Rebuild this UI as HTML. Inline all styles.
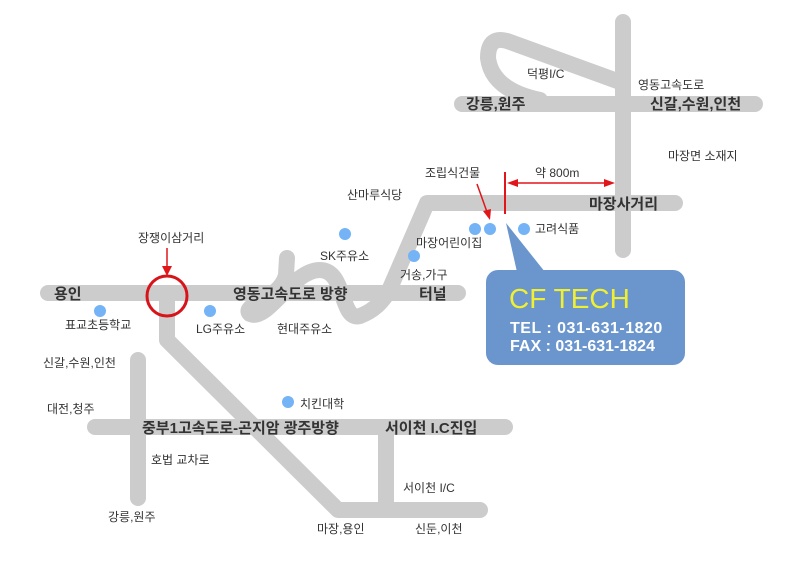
<!DOCTYPE html>
<html><head><meta charset="utf-8"><style>
html,body{margin:0;padding:0;background:#fff;width:800px;height:569px;overflow:hidden}
svg{display:block}
text{font-family:"Liberation Sans","Noto Sans CJK KR",sans-serif;fill:#333}
.s{font-size:12px}
.b{font-size:15px;font-weight:bold;fill:#333}
</style></head><body>
<svg width="800" height="569" viewBox="0 0 800 569">
<g fill="none" stroke="#cccccc" stroke-width="16" stroke-linecap="round" stroke-linejoin="round">
<path d="M623 22 L623 250"/>
<path d="M462 104 L755 104"/>
<path d="M620 82 L510 42 Q 488 34 488 58 Q 492 90 540 100"/>
<path d="M388 293 L427 203 L675 203"/>
<path d="M48 293 L458 293"/>
<path d="M287 258 L286 275 C 280 300, 240 305, 250 314 C 268 322, 292 270, 320 270 C 346 270, 340 322, 360 316 C 376 310, 383 300, 390 290"/>
<path d="M167 300 L167 340 L338 510 L480 510"/>
<path d="M386 510 L386 428"/>
<path d="M95 427 L505 427"/>
<path d="M138 360 L138 498"/>
</g>
<circle cx="167" cy="296" r="20" fill="none" stroke="#d7141a" stroke-width="3"/>
<g stroke="#e0161b" stroke-width="1.5" fill="#e0161b">
<line x1="167" y1="248" x2="167" y2="268"/>
<polygon points="162,266 172,266 167,276" stroke="none"/>
<line x1="505" y1="172" x2="505" y2="214" stroke-width="2"/>
<line x1="515" y1="183" x2="605" y2="183"/>
<polygon points="507,183 518,179 518,187" stroke="none"/>
<polygon points="615,183 604,179 604,187" stroke="none"/>
<line x1="477" y1="184" x2="487" y2="212"/>
<polygon points="483,211 491,209 490,220" stroke="none"/>
</g>
<g fill="#74b3f5">
<circle cx="100" cy="311" r="6"/><circle cx="210" cy="311" r="6"/>
<circle cx="345" cy="234" r="6"/><circle cx="414" cy="256" r="6"/>
<circle cx="475" cy="229" r="6"/><circle cx="490" cy="229" r="6"/>
<circle cx="524" cy="229" r="6"/><circle cx="288" cy="402" r="6"/>
</g>
<path d="M506 223 L545 272 L517 272 Z" fill="#6a95cd"/>
<rect x="486" y="270" width="199" height="95" rx="12" fill="#6a95cd"/>
<text x="509" y="308" style="font-size:28px;fill:#f0f030">CF TECH</text>
<text x="510" y="333" style="font-size:16px;font-weight:bold;fill:#fff;letter-spacing:0.5px">TEL : 031-631-1820</text>
<text x="510" y="351" style="font-size:16px;font-weight:bold;fill:#fff">FAX : 031-631-1824</text>
<text class="s" x="527" y="78">덕평I/C</text>
<text class="s" x="638" y="89">영동고속도로</text>
<text class="b" x="466" y="109">강릉,원주</text>
<text class="b" x="650" y="109">신갈,수원,인천</text>
<text class="s" x="668" y="160">마장면 소재지</text>
<text class="s" x="425" y="177">조립식건물</text>
<text class="s" x="535" y="177">약 800m</text>
<text class="s" x="347" y="199">산마루식당</text>
<text class="b" x="589" y="209">마장사거리</text>
<text class="s" x="138" y="242">장쟁이삼거리</text>
<text class="s" x="416" y="247">마장어린이집</text>
<text class="s" x="535" y="233">고려식품</text>
<text class="s" x="320" y="260">SK주유소</text>
<text class="s" x="400" y="279">거송,가구</text>
<text class="b" x="54" y="299">용인</text>
<text class="b" x="233" y="299">영동고속도로 방향</text>
<text class="b" x="419" y="299">터널</text>
<text class="s" x="65" y="329">표교초등학교</text>
<text class="s" x="196" y="333">LG주유소</text>
<text class="s" x="277" y="333">현대주유소</text>
<text class="s" x="43" y="367">신갈,수원,인천</text>
<text class="s" x="300" y="408">치킨대학</text>
<text class="s" x="47" y="413">대전,청주</text>
<text class="b" x="142" y="433">중부1고속도로-곤지암 광주방향</text>
<text class="b" x="385" y="433">서이천 I.C진입</text>
<text class="s" x="151" y="464">호법 교차로</text>
<text class="s" x="403" y="492">서이천 I/C</text>
<text class="s" x="108" y="521">강릉,원주</text>
<text class="s" x="317" y="533">마장,용인</text>
<text class="s" x="415" y="533">신둔,이천</text>
</svg>
</body></html>
